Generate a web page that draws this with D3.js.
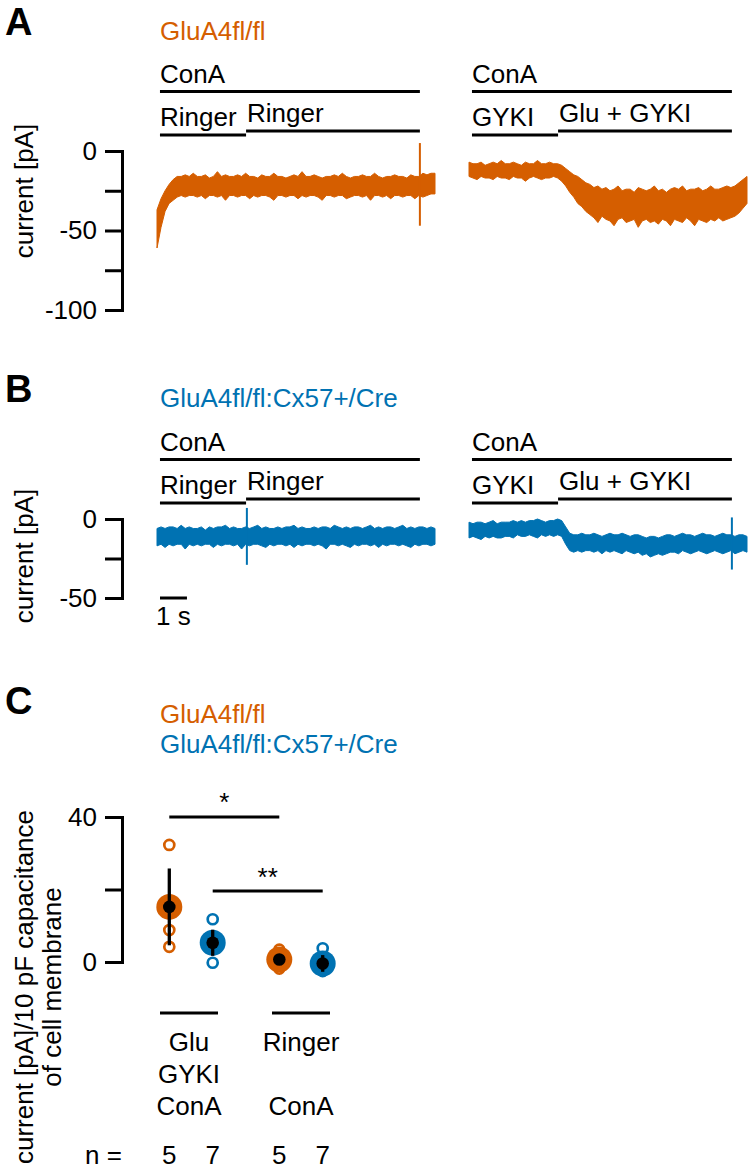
<!DOCTYPE html>
<html>
<head>
<meta charset="utf-8">
<script src="https://cdn.jsdelivr.net/npm/d3@7"></script>
<style>
  html, body { margin: 0; padding: 0; background: #fff; }
  svg text { font-family: 'Liberation Sans', Arial, sans-serif; }
</style>
</head>
<body>
<svg id="chart" width="754" height="1175"></svg>
<script>
// ---------------- DATA ----------------
const ORANGE = "#D55E00";
const BLUE = "#0072B2";
const genotypes = ["GluA4fl/fl", "GluA4fl/fl:Cx57+/Cre"];

// trace duration (s) per segment
const traceDuration = 10.3;

// Panel A (GluA4fl/fl) — min/max envelope of the recorded current (pA)
const aLeftHi = [-37,-30,-25,-21,-18,-16,-16,-15,-16,-14,
  -16,-16,-15,-17,-16,-13,-16,-15,-16,-16,
  -15,-16,-14,-16,-16,-17,-15,-16,-16,-14,
  -16,-16,-17,-16,-15,-16,-13,-16,-16,-15,
  -16,-17,-16,-16,-15,-16,-14,-16,-17,-16,
  -16,-15,-16,-16,-14,-16,-17,-16,-16,-15,
  -16,-16,-17,-15,-16,-16,-14,-15,-14,-14];
const aLeftLo = [-61,-48,-38,-33,-31,-29,-28,-29,-28,-28,
  -29,-28,-30,-28,-28,-29,-28,-31,-28,-28,
  -29,-28,-28,-30,-28,-29,-28,-28,-29,-31,
  -28,-28,-29,-28,-28,-30,-28,-29,-28,-28,
  -29,-31,-28,-28,-29,-28,-28,-30,-29,-28,
  -28,-29,-28,-31,-28,-28,-29,-28,-30,-28,
  -28,-29,-28,-28,-30,-28,-29,-28,-27,-27];
const aLeftSpike = {t: 9.74, hi: 5, lo: -47};

const aRightHi = [-7,-8,-8,-7,-9,-8,-7,-8,-6,-8,
  -8,-7,-8,-9,-7,-8,-8,-6,-8,-8,
  -7,-8,-8,-9,-11,-13,-15,-16,-18,-20,
  -21,-23,-22,-24,-23,-25,-24,-22,-25,-24,
  -24,-26,-23,-24,-25,-24,-22,-25,-24,-26,
  -24,-23,-24,-22,-25,-24,-24,-23,-25,-24,
  -22,-24,-24,-23,-22,-23,-22,-20,-18,-16];
const aRightLo = [-16,-17,-18,-16,-17,-17,-18,-16,-17,-17,
  -18,-16,-17,-17,-19,-17,-16,-17,-18,-17,
  -17,-16,-17,-19,-22,-26,-29,-33,-35,-38,
  -40,-42,-45,-41,-43,-44,-47,-43,-42,-45,
  -44,-43,-48,-44,-43,-45,-44,-46,-43,-44,
  -47,-43,-44,-45,-42,-44,-47,-43,-44,-45,
  -43,-44,-42,-44,-43,-42,-41,-39,-36,-33];

// Panel B (GluA4fl/fl:Cx57+/Cre)
const bLeftHi = [-6,-5,-6,-5,-5,-6,-4,-6,-5,-6,
  -6,-5,-7,-5,-6,-5,-5,-4,-6,-5,
  -6,-6,-5,-6,-5,-4,-6,-5,-6,-6,
  -5,-6,-5,-5,-4,-6,-5,-6,-6,-5,
  -6,-5,-5,-6,-4,-5,-6,-5,-6,-5,
  -5,-6,-5,-4,-6,-5,-6,-5,-5,-6,
  -5,-4,-6,-5,-6,-5,-5,-6,-5,-6];
const bLeftLo = [-17,-16,-18,-16,-17,-16,-16,-19,-16,-17,
  -16,-17,-16,-16,-18,-16,-17,-16,-16,-17,
  -16,-19,-16,-17,-16,-16,-17,-18,-16,-17,
  -16,-16,-17,-16,-18,-16,-17,-16,-16,-17,
  -16,-17,-19,-16,-16,-17,-16,-17,-18,-16,
  -17,-16,-16,-17,-16,-18,-16,-17,-16,-16,
  -17,-16,-17,-18,-16,-17,-16,-16,-17,-16];
const bLeftSpike = {t: 3.33, hi: 7, lo: -29};

const bRightHi = [-2,-3,-2,-2,-3,-2,-1,-3,-2,-2,
  -2,-1,-2,-1,-2,-1,-1,0,-1,-2,
  -1,-1,0,-1,-5,-9,-10,-10,-9,-10,
  -10,-9,-10,-11,-10,-9,-10,-10,-9,-10,
  -11,-10,-10,-11,-12,-11,-11,-12,-11,-10,
  -10,-11,-10,-9,-10,-10,-11,-10,-9,-10,
  -10,-11,-10,-9,-10,-10,-11,-10,-10,-11];
const bRightLo = [-12,-11,-12,-13,-11,-12,-11,-12,-12,-11,
  -11,-12,-10,-11,-11,-10,-11,-12,-10,-11,
  -10,-11,-10,-11,-16,-20,-21,-20,-21,-20,
  -20,-21,-20,-22,-20,-21,-20,-21,-22,-20,
  -21,-22,-21,-23,-22,-24,-23,-22,-23,-22,
  -21,-21,-22,-20,-21,-22,-21,-20,-21,-22,
  -21,-20,-21,-22,-21,-20,-22,-21,-20,-21];
const bRightSpike = {t: 9.74, hi: 1, lo: -32};

// solution application (s)
const conaWindow = [0.11, 9.74];
const switchTime = 3.3;
const leftSteps = ["Ringer", "Ringer"];
const rightSteps = ["GYKI", "Glu + GYKI"];
const scaleBarSeconds = 1;

// Axis ticks
const ticksA = [0, -25, -50, -75, -100];
const ticksALabeled = [0, -50, -100];
const ticksB = [0, -25, -50];
const ticksBLabeled = [0, -50];
const ticksC = [0, 20, 40];
const ticksCLabeled = [0, 40];

// Panel C: current density [pA]/10 pF
const conditions = ["Glu GYKI ConA", "Ringer ConA"];
const conditionLines = [["Glu", "GYKI", "ConA"], ["Ringer", "", "ConA"]];
const meanFl = [15.2, 0.7];
const errFl = [10.6, 1.0];
const meanCre = [5.3, -0.4];
const errCre = [3.6, 2.3];
const pointsFlGlu = [32.3, 16.4, 14.5, 8.8, 4.2];
const pointsCreGlu = [11.8, 6.0, 5.0, 4.9, 4.5, 4.0, -0.2];
const pointsFlRinger = [3.4, 0.9, 0.8, 0.6, -1.8];
const pointsCreRinger = [3.8, 0.0, -1.0, -1.0, -1.3, -1.5, -2.5];
const nFl = [5, 5];
const nCre = [7, 7];

// ---------------- DRAW ----------------
const svg = d3.select("#chart");
const FS = 26;

function txt(x, y, s, opts = {}) {
  const t = svg.append("text").attr("x", x).attr("y", y).text(s)
    .attr("font-size", opts.size || FS)
    .attr("fill", opts.color || "#000")
    .attr("text-anchor", opts.anchor || "start");
  if (opts.bold) t.attr("font-weight", "bold");
  return t;
}
function hline(x1, x2, y, w = 3) {
  svg.append("line").attr("x1", x1).attr("x2", x2).attr("y1", y).attr("y2", y)
    .attr("stroke", "#000").attr("stroke-width", w);
}
function ylabel(x, y, s) {
  svg.append("text").attr("transform", `translate(${x},${y}) rotate(-90)`)
    .attr("text-anchor", "middle").attr("font-size", FS).text(s);
}
function yaxis(scale, ticks, labeled) {
  const ax = d3.axisLeft(scale).tickValues(ticks).tickSize(17).tickSizeOuter(0).tickPadding(8)
    .tickFormat(d => labeled.includes(d) ? String(d) : "");
  const g = svg.append("g").attr("transform", "translate(122,0)").call(ax);
  g.selectAll("path, line").attr("stroke", "#000").attr("stroke-width", 3);
  g.select(".domain").attr("stroke-linecap", "square");
  g.selectAll("text").attr("font-size", FS).attr("font-family", "'Liberation Sans', Arial, sans-serif").attr("fill", "#000");
  return g;
}

const xL = d3.scaleLinear().domain([0, traceDuration]).range([157, 435]);
const xR = d3.scaleLinear().domain([0, traceDuration]).range([469, 747]);

function drawTrace(hi, lo, x, y, color, spike) {
  const n = hi.length;
  const tt = i => i * traceDuration / (n - 1);
  const area = d3.area().x((d, i) => x(tt(i))).y0(d => y(d[1])).y1(d => y(d[0]));
  svg.append("path").datum(d3.zip(hi, lo)).attr("d", area)
    .attr("fill", color).attr("stroke", color).attr("stroke-width", 1).attr("stroke-linejoin", "round");
  if (spike) {
    svg.append("line").attr("x1", x(spike.t)).attr("x2", x(spike.t))
      .attr("y1", y(spike.hi)).attr("y2", y(spike.lo))
      .attr("stroke", color).attr("stroke-width", 2);
  }
}

function drawSolutions(dy) {
  // left
  txt(xL(conaWindow[0]), 83 + dy, "ConA");
  hline(xL(conaWindow[0]), xL(conaWindow[1]), 91.5 + dy);
  txt(xL(conaWindow[0]), 125.5 + dy, leftSteps[0]);
  hline(xL(conaWindow[0]), xL(switchTime), 135 + dy);
  txt(xL(switchTime) + 1, 122 + dy, leftSteps[1]);
  hline(xL(switchTime), xL(conaWindow[1]), 131 + dy);
  // right
  txt(xR(conaWindow[0]), 83 + dy, "ConA");
  hline(xR(conaWindow[0]), xR(conaWindow[1]), 91.5 + dy);
  txt(xR(conaWindow[0]), 125.5 + dy, rightSteps[0]);
  hline(xR(conaWindow[0]), xR(switchTime), 135 + dy);
  txt(xR(switchTime) + 1, 122 + dy, rightSteps[1]);
  hline(xR(switchTime), xR(conaWindow[1]), 131 + dy);
}

// ---- Panel A ----
txt(5, 35, "A", {size: 38, bold: true});
txt(160, 40, genotypes[0], {color: ORANGE});
drawSolutions(0);
const yA = d3.scaleLinear().domain([-100, 0]).range([310, 151]);
yaxis(yA, ticksA, ticksALabeled);
ylabel(33, 191, "current [pA]");
drawTrace(aLeftHi, aLeftLo, xL, yA, ORANGE, aLeftSpike);
drawTrace(aRightHi, aRightLo, xR, yA, ORANGE, null);

// ---- Panel B ----
txt(5, 402, "B", {size: 38, bold: true});
txt(160, 407, genotypes[1], {color: BLUE});
drawSolutions(368);
const yB = d3.scaleLinear().domain([-50, 0]).range([598, 519]);
yaxis(yB, ticksB, ticksBLabeled);
ylabel(33, 556, "current [pA]");
drawTrace(bLeftHi, bLeftLo, xL, yB, BLUE, bLeftSpike);
drawTrace(bRightHi, bRightLo, xR, yB, BLUE, bRightSpike);
// scale bar
hline(xL(0.11), xL(0.11 + scaleBarSeconds), 598);
txt((xL(0.11) + xL(0.11 + scaleBarSeconds)) / 2, 625, scaleBarSeconds + " s", {anchor: "middle"});

// ---- Panel C ----
txt(5, 714, "C", {size: 38, bold: true});
txt(160, 723, genotypes[0], {color: ORANGE});
txt(160, 753, genotypes[1], {color: BLUE});
const yC = d3.scaleLinear().domain([0, 40]).range([962, 817]);
yaxis(yC, ticksC, ticksCLabeled);
ylabel(33, 987, "current [pA]/10 pF capacitance");
ylabel(61, 987, "of cell membrane");

const xCond = d3.scalePoint().domain(conditions).range([191, 301]);
const xGeno = d3.scalePoint().domain(genotypes).range([-21.7, 21.7]);
const px = (c, g) => xCond(c) + xGeno(g);

const groupsC = [
  {cond: conditions[0], geno: genotypes[0], color: ORANGE, mean: meanFl[0], err: errFl[0], pts: pointsFlGlu, n: nFl[0]},
  {cond: conditions[0], geno: genotypes[1], color: BLUE, mean: meanCre[0], err: errCre[0], pts: pointsCreGlu, n: nCre[0]},
  {cond: conditions[1], geno: genotypes[0], color: ORANGE, mean: meanFl[1], err: errFl[1], pts: pointsFlRinger, n: nFl[1]},
  {cond: conditions[1], geno: genotypes[1], color: BLUE, mean: meanCre[1], err: errCre[1], pts: pointsCreRinger, n: nCre[1]},
];

groupsC.forEach(g => {
  const x = px(g.cond, g.geno);
  svg.append("g").selectAll("circle").data(g.pts).join("circle")
    .attr("cx", x).attr("cy", d => yC(d)).attr("r", 5)
    .attr("fill", "none").attr("stroke", g.color).attr("stroke-width", 2.7);
  svg.append("circle").attr("cx", x).attr("cy", yC(g.mean)).attr("r", 13).attr("fill", g.color);
  svg.append("line").attr("x1", x).attr("x2", x)
    .attr("y1", yC(g.mean + g.err)).attr("y2", yC(g.mean - g.err))
    .attr("stroke", "#000").attr("stroke-width", 3.3);
  svg.append("circle").attr("cx", x).attr("cy", yC(g.mean)).attr("r", 6.3).attr("fill", "#000");
  txt(x, 1164, String(g.n), {anchor: "middle"});
});
txt(85, 1164, "n =");

// significance
hline(px(conditions[0], genotypes[0]), px(conditions[1], genotypes[0]), 817);
txt((px(conditions[0], genotypes[0]) + px(conditions[1], genotypes[0])) / 2, 811, "*", {anchor: "middle"});
hline(px(conditions[0], genotypes[1]), px(conditions[1], genotypes[1]), 891);
txt((px(conditions[0], genotypes[1]) + px(conditions[1], genotypes[1])) / 2, 886, "**", {anchor: "middle"});

// condition labels
conditions.forEach((c, i) => {
  const cx = xCond(c) - (i === 0 ? 2 : 0);
  hline(cx - 29, cx + 29, 1013);
  conditionLines[i].forEach((s, j) => {
    if (s) txt(cx, 1051 + j * 32, s, {anchor: "middle"});
  });
});
</script>
</body>
</html>
